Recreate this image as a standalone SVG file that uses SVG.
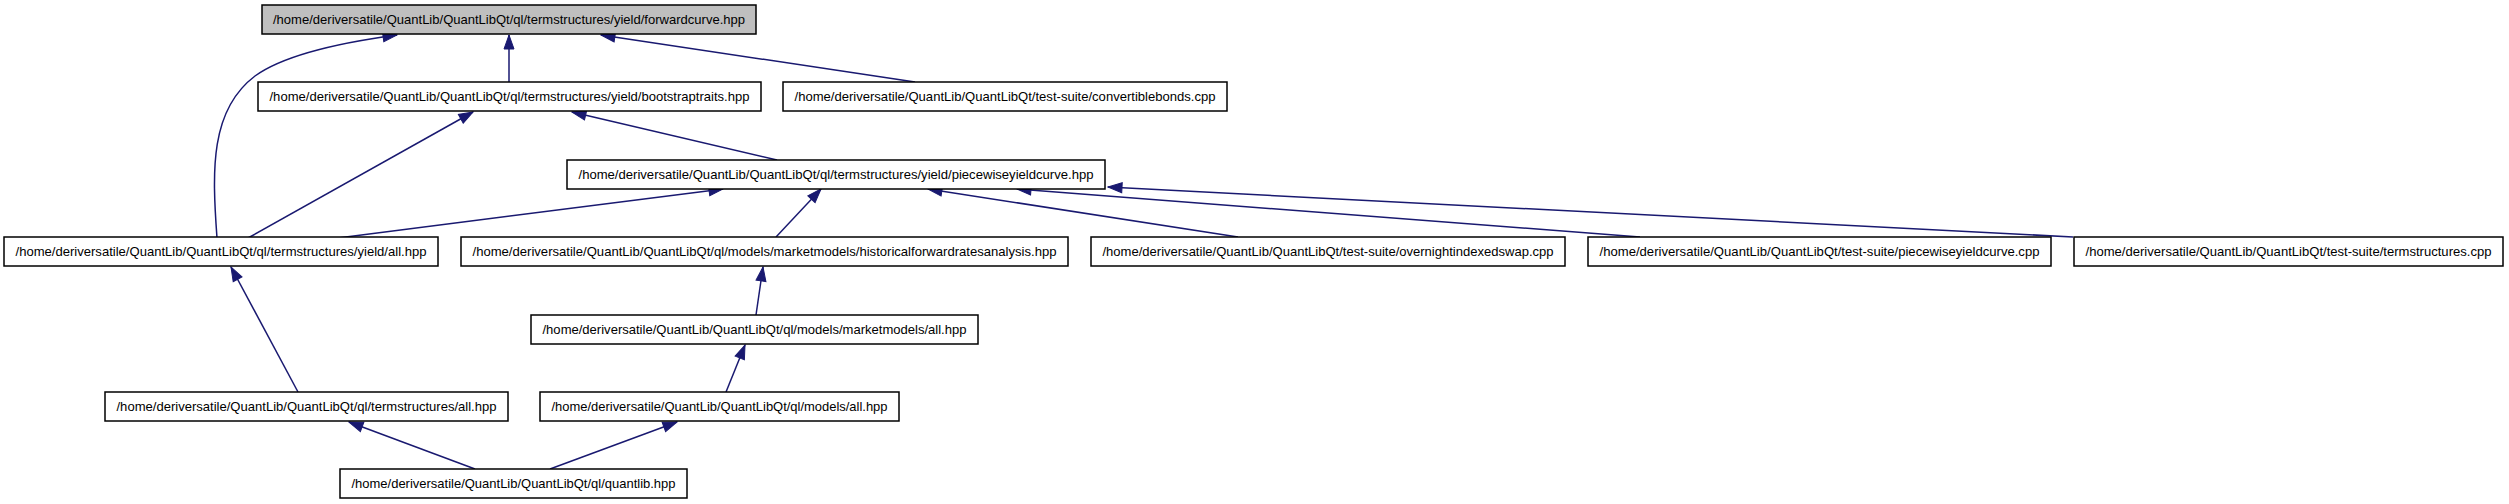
<svg xmlns="http://www.w3.org/2000/svg" width="2509" height="504" viewBox="0 0 2509 504">
<style>
.n rect{fill:#ffffff;stroke:#000000;stroke-width:1.5}
.n.root rect{fill:#bfbfbf}
.n text{font-family:"Liberation Sans",Arial,sans-serif;font-size:13px;fill:#000000;text-anchor:middle}
.e path{fill:none;stroke:#191970;stroke-width:1.5}
</style>
<defs>
<marker id="ah" markerUnits="userSpaceOnUse" viewBox="-15 -6 16 12" markerWidth="16" markerHeight="12" refX="0" refY="0" orient="auto">
<path d="M0,0 L-14,-5 L-14,5 Z" fill="#191970" stroke="#191970" stroke-width="1"/>
</marker>
</defs>
<rect width="2509" height="504" fill="#ffffff"/>
<g id="edges" class="e">
<path marker-end="url(#ah)" d="M217,238 C212,170 210,110 255,76 C280,58 330,44 397,35"/>
<path marker-end="url(#ah)" d="M509,82 L509,35"/>
<path marker-end="url(#ah)" d="M915,82 L601,35"/>
<path marker-end="url(#ah)" d="M248,238 L473,112"/>
<path marker-end="url(#ah)" d="M777,160 L572,112"/>
<path marker-end="url(#ah)" d="M338,238 L723,189"/>
<path marker-end="url(#ah)" d="M776,237 L821,189"/>
<path marker-end="url(#ah)" d="M1238,237 L928,189"/>
<path marker-end="url(#ah)" d="M1640,237 L1017,189"/>
<path marker-end="url(#ah)" d="M2073,237 L1108,187"/>
<path marker-end="url(#ah)" d="M298,392 L231,267"/>
<path marker-end="url(#ah)" d="M756,315 L763,267"/>
<path marker-end="url(#ah)" d="M726,392 L745,345"/>
<path marker-end="url(#ah)" d="M475,469 L349,422"/>
<path marker-end="url(#ah)" d="M550,469 L677,422"/>
</g>
<g id="node-forwardcurve" class="n root"><rect x="262" y="5" width="494" height="29"/><text x="509" y="23.5" textLength="472" lengthAdjust="spacingAndGlyphs">/home/deriversatile/QuantLib/QuantLibQt/ql/termstructures/yield/forwardcurve.hpp</text></g>
<g id="node-bootstraptraits" class="n"><rect x="258" y="82" width="503" height="29"/><text x="509.5" y="100.5" textLength="480" lengthAdjust="spacingAndGlyphs">/home/deriversatile/QuantLib/QuantLibQt/ql/termstructures/yield/bootstraptraits.hpp</text></g>
<g id="node-convertiblebonds" class="n"><rect x="783" y="82" width="444" height="29"/><text x="1005" y="100.5" textLength="421" lengthAdjust="spacingAndGlyphs">/home/deriversatile/QuantLib/QuantLibQt/test-suite/convertiblebonds.cpp</text></g>
<g id="node-piecewiseyieldcurve-hpp" class="n"><rect x="567" y="160" width="538" height="29"/><text x="836" y="178.5" textLength="515" lengthAdjust="spacingAndGlyphs">/home/deriversatile/QuantLib/QuantLibQt/ql/termstructures/yield/piecewiseyieldcurve.hpp</text></g>
<g id="node-yield-all" class="n"><rect x="4" y="237" width="434" height="29"/><text x="221" y="255.5" textLength="411" lengthAdjust="spacingAndGlyphs">/home/deriversatile/QuantLib/QuantLibQt/ql/termstructures/yield/all.hpp</text></g>
<g id="node-historical" class="n"><rect x="461" y="237" width="607" height="29"/><text x="764.5" y="255.5" textLength="584" lengthAdjust="spacingAndGlyphs">/home/deriversatile/QuantLib/QuantLibQt/ql/models/marketmodels/historicalforwardratesanalysis.hpp</text></g>
<g id="node-overnight" class="n"><rect x="1091" y="237" width="474" height="29"/><text x="1328" y="255.5" textLength="451" lengthAdjust="spacingAndGlyphs">/home/deriversatile/QuantLib/QuantLibQt/test-suite/overnightindexedswap.cpp</text></g>
<g id="node-piecewiseyieldcurve-cpp" class="n"><rect x="1588" y="237" width="463" height="29"/><text x="1819.5" y="255.5" textLength="440" lengthAdjust="spacingAndGlyphs">/home/deriversatile/QuantLib/QuantLibQt/test-suite/piecewiseyieldcurve.cpp</text></g>
<g id="node-termstructures-cpp" class="n"><rect x="2074" y="237" width="429" height="29"/><text x="2288.5" y="255.5" textLength="406" lengthAdjust="spacingAndGlyphs">/home/deriversatile/QuantLib/QuantLibQt/test-suite/termstructures.cpp</text></g>
<g id="node-marketmodels-all" class="n"><rect x="531" y="315" width="447" height="29"/><text x="754.5" y="333.5" textLength="424" lengthAdjust="spacingAndGlyphs">/home/deriversatile/QuantLib/QuantLibQt/ql/models/marketmodels/all.hpp</text></g>
<g id="node-termstructures-all" class="n"><rect x="105" y="392" width="403" height="29"/><text x="306.5" y="410.5" textLength="380" lengthAdjust="spacingAndGlyphs">/home/deriversatile/QuantLib/QuantLibQt/ql/termstructures/all.hpp</text></g>
<g id="node-models-all" class="n"><rect x="540" y="392" width="359" height="29"/><text x="719.5" y="410.5" textLength="336" lengthAdjust="spacingAndGlyphs">/home/deriversatile/QuantLib/QuantLibQt/ql/models/all.hpp</text></g>
<g id="node-quantlib" class="n"><rect x="340" y="469" width="347" height="29"/><text x="513.5" y="487.5" textLength="324" lengthAdjust="spacingAndGlyphs">/home/deriversatile/QuantLib/QuantLibQt/ql/quantlib.hpp</text></g>
</svg>
